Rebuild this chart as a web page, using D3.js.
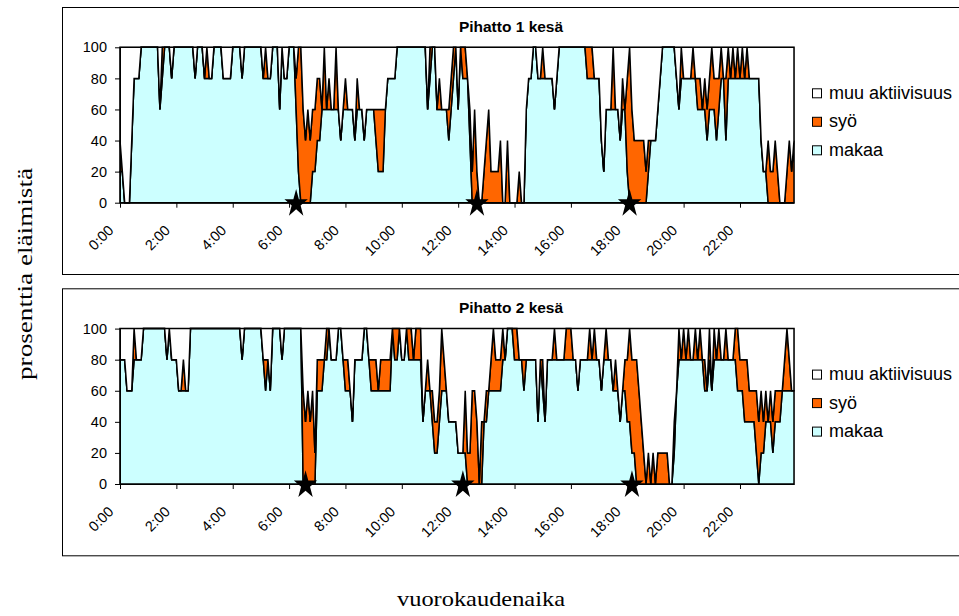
<!DOCTYPE html>
<html>
<head>
<meta charset="utf-8">
<script src="https://cdn.jsdelivr.net/npm/d3@7/dist/d3.min.js"></script>
<style>
  body { margin: 0; background: #fff; }
  svg { display: block; }
</style>
</head>
<body>
<svg id="chart" width="959" height="616"></svg>
<script>
// Observation interval between samples, in minutes (288 samples per day)
const stepMinutes = 5;

const tickLabels = ["0:00", "2:00", "4:00", "6:00", "8:00", "10:00",
                    "12:00", "14:00", "16:00", "18:00", "20:00", "22:00"];
const yTicks = [0, 20, 40, 60, 80, 100];

const legendNames = ["muu aktiivisuus", "syö", "makaa"];
const titles = ["Pihatto 1 kesä", "Pihatto 2 kesä"];
const yTitle = "prosenttia eläimistä";
const xTitle = "vuorokaudenaika";

// Feeding times (drawn as stars on the time axis)
const feeding1 = ["6:15", "12:40", "18:05"];
const feeding2 = ["6:35", "12:10", "18:10"];

// Pihatto 1: share of animals lying (makaa), % per 5 min
const lying1 = [
  20,20,0,0,0,40,80,80,80,100,100,100,100,100,100,100,100,60,80,100,100,100,80,100,
  100,100,100,100,100,100,100,100,80,100,100,100,80,80,80,80,100,100,100,100,80,80,80,80,
  100,100,100,100,80,100,100,100,100,100,100,100,100,80,80,80,80,100,100,100,60,100,80,80,
  100,100,100,60,20,0,0,0,0,0,20,20,40,40,60,60,60,60,60,60,60,60,40,60,
  60,60,60,60,40,60,60,60,40,60,60,60,60,40,20,20,20,60,80,80,80,80,100,100,
  100,100,100,100,100,100,100,100,100,100,100,60,80,100,100,60,60,60,60,60,40,60,80,100,
  60,100,80,80,80,40,0,0,0,0,0,0,0,0,0,0,0,0,0,0,0,0,0,0,
  0,0,0,0,0,60,80,80,100,100,80,80,80,80,80,80,80,60,80,100,100,100,100,100,
  100,100,100,100,100,100,100,80,80,80,80,80,80,40,20,60,60,60,60,60,60,40,60,60,
  20,0,0,0,0,0,0,0,0,20,40,40,40,60,80,100,100,100,100,100,100,80,60,80,
  80,80,80,80,80,80,60,60,60,60,40,60,60,60,40,60,80,80,40,80,80,80,80,80,
  80,80,80,80,80,80,80,80,80,40,20,20,0,0,0,0,0,0,0,0,0,0,0,0
];

// Pihatto 1: share of animals eating (syö), % per 5 min
const eating1 = [
  20,0,0,0,0,0,0,0,0,0,0,0,0,0,0,0,0,0,20,0,0,0,0,0,
  0,0,0,0,0,0,0,0,0,0,0,0,0,20,0,0,0,0,0,0,0,0,0,0,
  0,0,0,0,0,0,0,0,0,0,0,0,0,0,20,0,0,0,0,0,0,0,0,0,
  0,0,0,20,80,100,60,40,60,40,40,40,40,40,0,40,0,20,0,0,40,0,0,0,
  20,0,0,0,0,20,0,0,0,0,0,0,0,20,40,40,40,0,0,0,0,0,0,0,
  0,0,0,0,0,0,0,0,0,0,0,0,20,0,0,0,20,0,0,0,20,20,20,0,
  0,0,20,20,0,20,20,60,20,0,0,20,40,60,20,20,20,20,40,0,0,40,0,0,
  0,0,20,0,0,0,0,0,0,0,0,0,20,0,0,0,0,0,0,0,0,0,0,0,
  0,0,0,0,0,0,0,20,20,20,0,0,0,0,0,0,0,0,40,0,0,0,20,0,
  60,100,60,40,40,40,40,40,20,20,0,0,0,0,0,0,0,0,0,0,0,0,0,20,
  0,0,0,0,20,0,20,20,0,20,20,20,40,20,40,20,20,0,40,20,0,20,0,20,
  0,20,0,20,0,0,0,0,0,0,0,0,40,20,20,40,20,0,0,0,20,40,20,40
];

// Pihatto 2: share of animals lying (makaa), % per 5 min
const lying2 = [
  80,80,80,60,60,60,80,80,80,80,100,100,100,100,100,100,100,100,100,100,80,100,80,80,
  80,60,60,60,60,60,100,100,100,100,100,100,100,100,100,100,100,100,100,100,100,100,100,100,
  100,100,100,100,80,100,100,100,100,100,100,100,100,80,60,80,60,100,100,100,100,80,100,100,
  100,100,100,100,100,100,0,0,0,0,0,0,60,60,60,80,80,100,80,80,80,100,100,80,
  60,60,60,40,80,80,80,80,100,100,80,60,60,60,60,60,60,60,60,60,100,80,80,100,
  80,80,100,80,80,80,80,80,80,40,60,60,60,40,20,20,40,60,60,60,40,40,40,40,
  20,20,20,20,0,0,0,0,0,0,0,40,40,60,60,60,60,60,60,80,80,100,100,100,
  80,80,80,80,60,80,80,80,80,80,40,80,60,40,80,80,80,80,80,80,80,80,80,80,
  80,80,80,60,80,80,80,80,80,80,80,80,80,60,80,80,80,80,60,60,60,40,60,60,
  40,40,20,20,0,0,0,0,0,0,0,0,0,0,0,0,0,0,0,0,20,60,80,80,
  80,80,80,80,80,80,80,80,80,60,60,80,60,80,80,80,80,80,80,80,80,80,80,60,
  60,60,40,40,40,40,40,20,0,20,20,40,40,40,20,40,40,40,60,60,60,60,60,60
];

// Pihatto 2: share of animals eating (syö), % per 5 min
const eating2 = [
  0,0,0,0,0,0,20,0,0,0,0,0,0,0,0,0,0,0,0,0,0,0,0,0,
  0,0,0,20,0,0,0,0,0,0,0,0,0,0,0,0,0,0,0,0,0,0,0,0,
  0,0,0,0,0,0,0,0,0,0,0,0,0,0,20,0,0,0,0,0,0,0,0,0,
  0,0,0,0,0,0,60,40,60,40,60,20,20,20,20,0,20,0,0,0,0,0,0,0,
  20,20,0,0,0,0,0,0,0,0,0,20,20,20,0,20,20,20,20,20,0,20,20,0,
  0,0,0,20,20,0,20,20,20,0,0,20,0,20,20,20,20,40,20,0,0,0,0,0,
  0,0,0,40,20,20,60,60,40,0,40,0,20,0,20,40,20,20,20,20,0,0,0,0,
  20,20,0,0,20,0,0,0,0,0,0,0,20,0,0,0,0,20,0,0,0,0,20,20,
  20,0,0,0,0,0,0,0,20,0,20,0,0,0,0,20,0,0,0,20,0,0,0,20,
  40,60,60,60,80,60,40,20,0,20,0,20,0,20,20,20,20,20,0,0,20,0,20,0,
  20,0,20,0,0,20,0,20,0,20,0,20,0,20,0,20,0,0,20,0,0,0,20,40,
  20,20,40,40,20,20,20,40,40,40,20,20,0,20,20,20,20,20,0,20,40,20,0,0
];

const colors = { other: "#ffffff", eating: "#ff6600", lying: "#ccffff" };
const fontSans = "'Liberation Sans', Arial, sans-serif";
const fontSerif = "'Liberation Serif', 'Times New Roman', serif";

const svg = d3.select("#chart");

const toIndex = t => {
  const [h, m] = t.split(":").map(Number);
  return (h * 60 + m) / stepMinutes;
};

const panels = [
  { title: titles[0], lying: lying1, eating: eating1, feeding: feeding1, offset: 0 },
  { title: titles[1], lying: lying2, eating: eating2, feeding: feeding2, offset: 281.3 }
];

const plot = { left: 120, right: 794, top: 47.3, bottom: 202.7 };

panels.forEach(p => {
  const g = svg.append("g").attr("transform", `translate(0,${p.offset})`);

  // chart frame
  g.append("rect")
    .attr("x", 62.5).attr("y", 7.5)
    .attr("width", 920).attr("height", 267)
    .attr("fill", "#fff").attr("stroke", "#000").attr("stroke-width", 1);

  g.append("text")
    .attr("x", 511).attr("y", 31.5)
    .attr("text-anchor", "middle")
    .attr("font-family", fontSans).attr("font-weight", "bold")
    .attr("font-size", 15.5)
    .text(p.title);

  const n = p.lying.length;
  const x = d3.scaleLinear().domain([0, n - 1]).range([plot.left, plot.right]);
  const y = d3.scaleLinear().domain([0, 100]).range([plot.bottom, plot.top]);

  const rows = p.lying.map((v, i) => ({
    i, lying: v, eating: p.eating[i], other: 100 - v - p.eating[i]
  }));
  const series = d3.stack().keys(["lying", "eating", "other"])(rows);

  // plot area border
  g.append("rect")
    .attr("x", plot.left).attr("y", plot.top)
    .attr("width", plot.right - plot.left).attr("height", plot.bottom - plot.top)
    .attr("fill", "#fff").attr("stroke", "#808080");

  const area = d3.area()
    .x(d => x(d.data.i))
    .y0(d => y(d[0]))
    .y1(d => y(d[1]))
    .curve(d3.curveLinear);

  g.append("g").selectAll("path")
    .data(series)
    .join("path")
    .attr("d", area)
    .attr("fill", d => colors[d.key])
    .attr("stroke", "#000")
    .attr("stroke-width", 1.5)
    .attr("stroke-linejoin", "miter")
    .attr("stroke-miterlimit", 3);

  // y axis
  const yAxis = g.append("g")
    .attr("transform", `translate(${plot.left},0)`)
    .call(d3.axisLeft(y).tickValues(yTicks).tickSize(5).tickSizeOuter(0).tickPadding(8));
  yAxis.selectAll("text")
    .attr("font-family", fontSans).attr("font-size", 14.5).attr("fill", "#000");
  yAxis.selectAll("line, path").attr("stroke", "#000");

  // x axis (category ticks every two hours)
  const xAxis = g.append("g")
    .attr("transform", `translate(0,${plot.bottom})`)
    .call(d3.axisBottom(x)
      .tickValues(d3.range(0, n, 24))
      .tickSize(5).tickSizeOuter(0)
      .tickFormat((d, k) => tickLabels[k]));
  xAxis.selectAll("line, path").attr("stroke", "#000");
  xAxis.selectAll("text")
    .attr("font-family", fontSans).attr("font-size", 14.5).attr("fill", "#000")
    .attr("text-anchor", "end")
    .attr("x", 0).attr("y", 0).attr("dy", 0)
    .attr("transform", "translate(-6,28.5) rotate(-45)");

  // feeding markers
  g.append("g").selectAll("path")
    .data(p.feeding)
    .join("path")
    .attr("transform", d => `translate(${x(toIndex(d))},${plot.bottom + 1}) scale(1,1.2)`)
    .attr("d", d3.symbol(d3.symbolStar, 170))
    .attr("fill", "#000");

  // legend
  const legendKeys = ["other", "eating", "lying"];
  const lg = g.append("g");
  legendNames.forEach((name, k) => {
    const cy = 93.3 + k * 28.5;
    lg.append("rect")
      .attr("x", 812.5).attr("y", cy - 4.5)
      .attr("width", 9).attr("height", 9)
      .attr("fill", colors[legendKeys[k]]).attr("stroke", "#000");
    lg.append("text")
      .attr("x", 829).attr("y", cy + 5.5)
      .attr("font-family", fontSans).attr("font-size", 18)
      .text(name);
  });
});

// axis titles
svg.append("text")
  .attr("transform", "translate(32,274) rotate(-90)")
  .attr("text-anchor", "middle")
  .attr("font-family", fontSerif).attr("font-size", 21)
  .attr("textLength", 212).attr("lengthAdjust", "spacingAndGlyphs")
  .text(yTitle);

svg.append("text")
  .attr("x", 481).attr("y", 606)
  .attr("text-anchor", "middle")
  .attr("font-family", fontSerif).attr("font-size", 21)
  .attr("textLength", 168).attr("lengthAdjust", "spacingAndGlyphs")
  .text(xTitle);
</script>
</body>
</html>
